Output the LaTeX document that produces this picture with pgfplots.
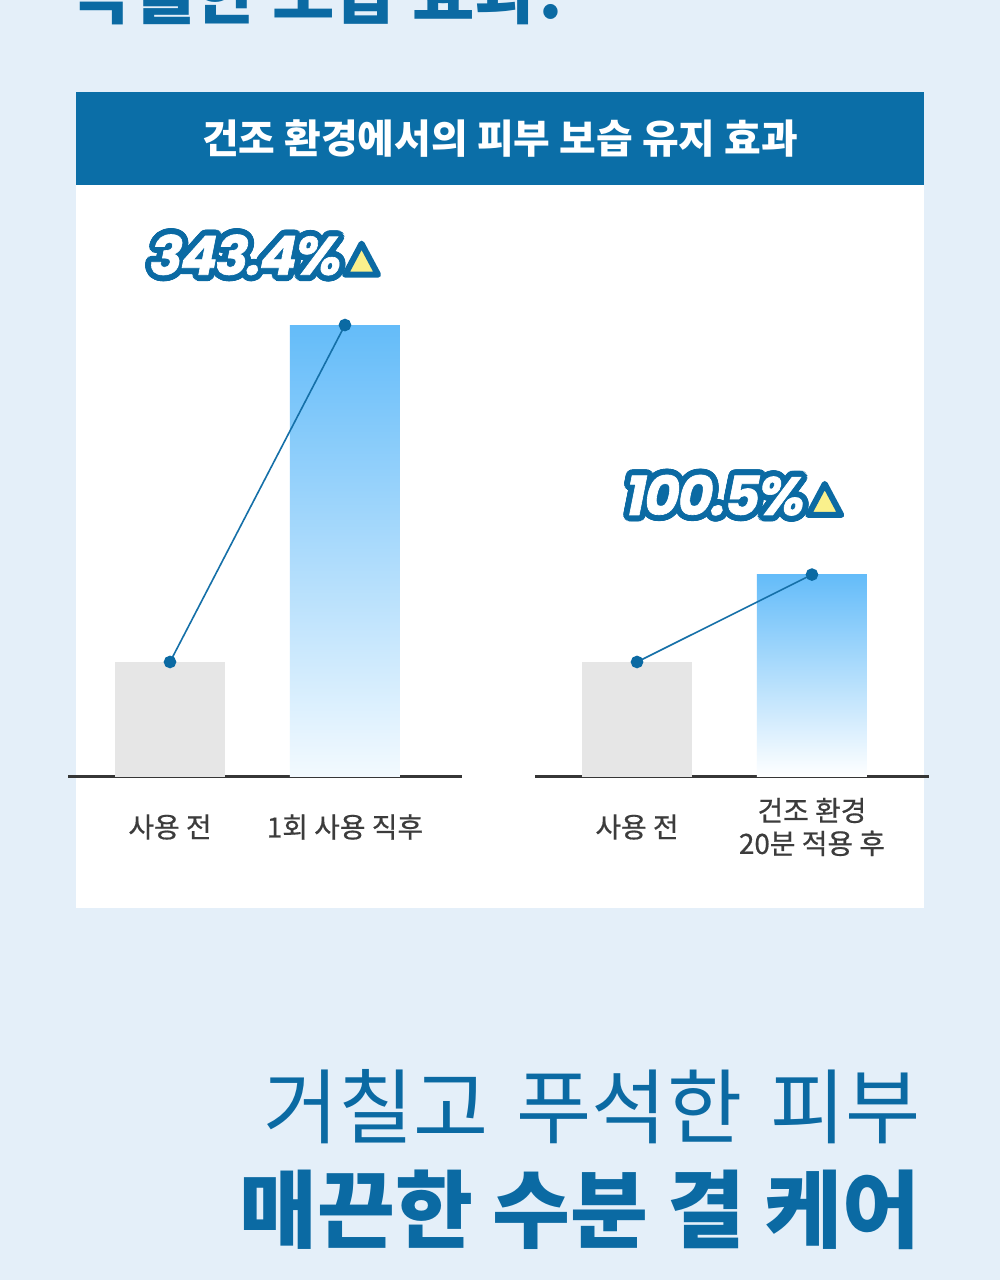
\documentclass[border=0pt]{standalone}
\usepackage{fontspec}
\setmainfont{Noto Sans CJK KR}
\newfontfamily\medfont[FakeBold=0.6]{Noto Sans CJK KR}
\newfontfamily\pctfont[FakeSlant=0.2, FakeBold=1.2, LetterSpace=-3]{Poppins}
\usepackage{pgfplots}
\pgfplotsset{compat=1.18}
\usetikzlibrary{calc}
\definecolor{bgblue}{HTML}{E4EFF9}
\definecolor{hdblue}{HTML}{0B6EA7}
\definecolor{dblue}{HTML}{0B6AA3}
\definecolor{lineblue}{HTML}{1570A8}
\definecolor{barblue}{HTML}{64BCF9}
\definecolor{bargray}{HTML}{E6E6E6}
\definecolor{labgray}{HTML}{3C3C3C}
\definecolor{tri}{HTML}{FAF08C}
\pgfplotsset{
  minichart/.style={
    scale only axis, width=394bp, height=460bp,
    xmin=-0.583, xmax=1.669, ymin=0, ymax=400,
    axis y line=none, axis x line*=bottom,
    x axis line style={line width=3bp, color=labgray!90!black},
    xtick={0,1}, major tick length=0pt, ytick=\empty,
    xticklabel style={font=\medfont\fontsize{28}{33}\selectfont, text=labgray, align=center, anchor=center, yshift=-50bp},
    clip=false,
  },
}
\begin{document}
\begin{tikzpicture}[x=1bp,y=1bp]
\useasboundingbox (0,0) rectangle (1000,1280);
\clip (0,0) rectangle (1000,1280);
\fill[bgblue] (0,0) rectangle (1000,1280);
\node[anchor=base west, inner sep=0pt, font=\bfseries\fontsize{68}{68}\selectfont, text=dblue] at (70,1261) {탁월한 보습 효과!};
\fill[white] (76,372) rectangle (924,1188);
\fill[hdblue] (76,1095) rectangle (924,1188);
\node[text=white, font=\bfseries\fontsize{40}{40}\selectfont] at (500,1141) {건조 환경에서의 피부 보습 유지 효과};

% left chart
\begin{axis}[minichart, at={(68bp,503bp)}, anchor=south west,
  xticklabels={사용 전, 1회 사용 직후}]
\addplot[ybar, bar width=110bp, bar shift=0pt, fill=bargray, draw=none] coordinates {(0,100)};
\addplot[ybar, bar width=110bp, bar shift=0pt, draw=none, top color=barblue, middle color=barblue!62, bottom color=barblue!8] coordinates {(1,393)};
\addplot[lineblue, line width=1.6bp, mark=*, mark size=5.5bp, mark options={fill=dblue, draw=dblue}] coordinates {(0,100) (1,393)};
\coordinate (L1) at (axis cs:0.417,454);
\end{axis}

% right chart
\begin{axis}[minichart, at={(535bp,503bp)}, anchor=south west,
  xticklabels={사용 전, {건조 환경\\20분 적용 후}}]
\addplot[ybar, bar width=110bp, bar shift=0pt, fill=bargray, draw=none] coordinates {(0,100)};
\addplot[ybar, bar width=110bp, bar shift=0pt, draw=none, top color=barblue, middle color=barblue!78, bottom color=white] coordinates {(1,176)};
\addplot[lineblue, line width=1.6bp, mark=*, mark size=5.5bp, mark options={fill=dblue, draw=dblue}] coordinates {(0,100) (1,176)};
\coordinate (L2) at (axis cs:0.431,245);
\end{axis}

% percentage labels
\foreach \p/\t in {L1/343.4\%, L2/100.5\%}{
  \foreach \a in {0,15,...,345}
    \node[inner sep=0pt, text=dblue, font=\pctfont\bfseries\fontsize{54}{54}\selectfont] at ($(\p)+(\a:6bp)$) {\t};
  \node[inner sep=0pt, text=white, font=\pctfont\bfseries\fontsize{54}{54}\selectfont] (T\p) at (\p) {\t};
  \draw[dblue, fill=tri, line width=6bp, line join=round] ($(T\p.base east)+(6,0)$) -- ++(33,0) -- ++(-16.5,31) -- cycle;
}

\node[anchor=east, inner sep=0pt, text=dblue, font=\fontsize{82}{82}\selectfont] at (921,173) {거칠고\hspace{0.12em} 푸석한\hspace{0.12em} 피부};
\node[anchor=east, inner sep=0pt, text=dblue, font=\bfseries\fontsize{85}{85}\selectfont] at (921,70) {매끈한 수분 결 케어};
\end{tikzpicture}
\end{document}
